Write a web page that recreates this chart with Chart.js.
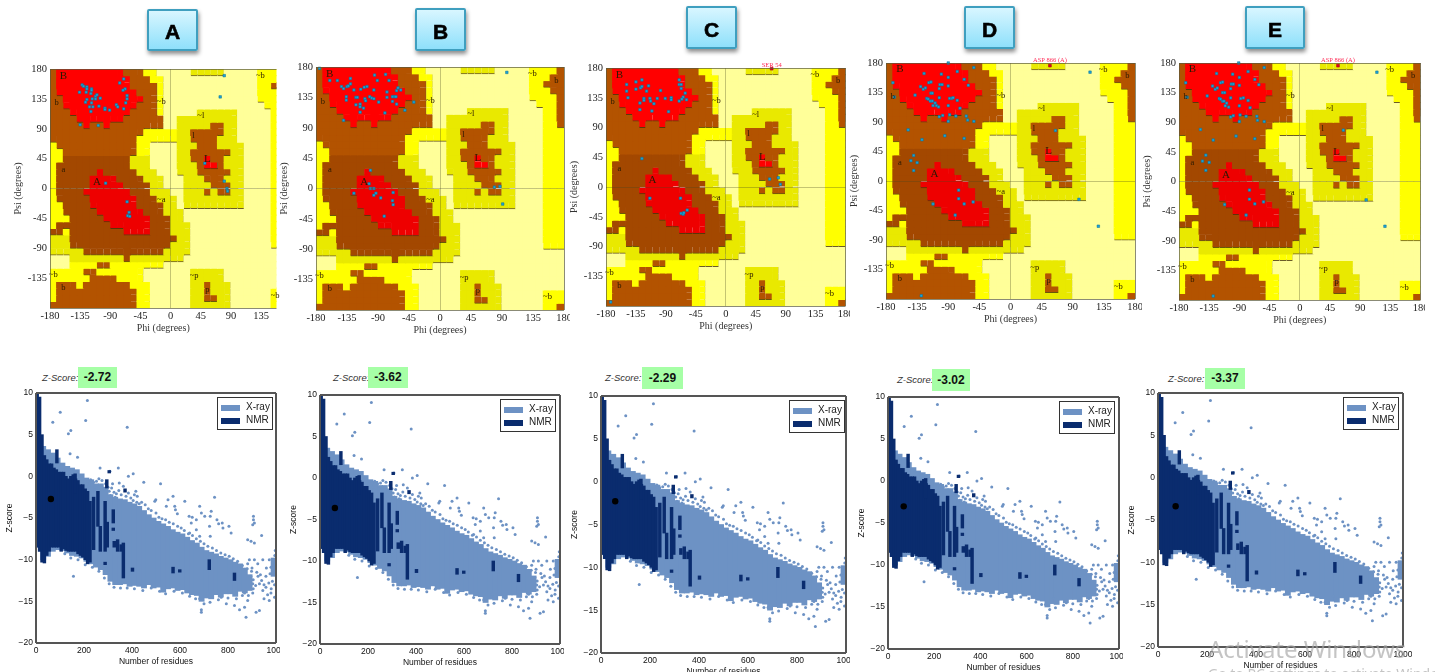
<!DOCTYPE html>
<html>
<head>
<meta charset="utf-8">
<title>Ramachandran and Z-score plots</title>
<script src="https://cdn.jsdelivr.net/npm/chart.js@4/dist/chart.umd.min.js"></script>
<style>
  html, body { margin: 0; padding: 0; background: #fff; overflow: hidden; }
  #page { position: relative; width: 1435px; height: 672px; overflow: hidden; }
  canvas { position: absolute; filter: blur(0.55px); }
  .tag { position: absolute; box-sizing: border-box; border: 2px solid #3f9fbf; border-radius: 2px;
    background: linear-gradient(#d8f6ff, #8fe0fb); box-shadow: 1px 3px 4px rgba(0,0,0,.45);
    font: bold 21px "Liberation Sans", sans-serif; color: #000; text-align: center; -webkit-text-stroke: 0.6px #000; }
  .zlabel { position: absolute; font: italic 9.5px "Liberation Sans", sans-serif; color: #333; line-height: 12px; }
  .zbox { position: absolute; background: #a6ffa6; font: bold 12px "Liberation Sans", sans-serif; color: #111; text-align: center; }
  .legend { position: absolute; box-sizing: border-box; width: 56px; height: 33px; border: 1.5px solid #333; background: #fff;
    font: 10px "Liberation Sans", sans-serif; color: #222; filter: blur(0.3px); }
  .legend i { position: absolute; left: 3px; width: 19px; height: 6px; }
  .legend span { position: absolute; left: 28px; line-height: 12px; }
  .watermark { position: absolute; font-family: "Noto Sans", sans-serif; color: rgba(165,165,165,.65); white-space: nowrap; }
</style>
</head>
<body>
<div id="page"></div>
<script>
// Ramachandran region map, one row per 10 degrees of psi from +180 down to -180
// R red, r dark red, B brown, D dark brown, Y yellow, E olive, P pale
const regionRows = [
  'B R10 B3 Y2 P5 E5 P5 Y4 B',
  'B R11 B3 Y2 P14 Y3 B2',
  'B R11 B4 Y P14 Y2 B3',
  'B R12 B3 Y P14 Y3 B2',
  'B2 R12 B2 Y P14 Y4 B',
  'B2 R11 B3 Y P15 Y3 B',
  'B3 R9 B4 Y P5 E6 P5 Y2 B',
  'B4 R7 B6 P2 E9 P5 Y2 B',
  'B5 R B2 R B8 P2 E5 B2 E2 P5 Y2 B',
  'B14 Y5 E2 B5 E2 P5 Y3',
  'B13 Y6 E2 B4 E3 P5 Y3',
  'Y B12 Y2 P4 E3 B3 E4 P4 Y3',
  'Y2 B11 Y2 P4 E2 B6 E2 P4 Y3',
  'Y2 D10 E3 P4 E2 B2 R B2 E3 P4 Y3',
  'Y D11 E3 P4 E3 B R2 B E3 P4 Y3',
  'Y D6 r D5 E3 P3 E3 B5 E2 P4 Y3',
  'Y D5 r4 D4 E3 P3 E3 B3 E3 P4 Y3',
  'Y D5 r5 D4 E2 P3 E4 B3 E2 P4 Y3',
  'Y D4 r7 D3 E3 P2 E3 B E B2 E2 P4 Y3',
  'Y D5 r7 D3 E3 P E9 P4 Y3',
  'Y2 D4 r7 D4 E2 P E9 P4 Y3',
  'Y2 D5 r7 D3 E3 P13 Y3',
  'Y3 D5 r7 D3 E2 P13 Y3',
  'Y D8 r6 D3 E3 P12 Y3',
  'D2 Y D8 r4 D3 E3 P12 Y3',
  'E3 D16 E2 P12 Y3',
  'E3 D15 E3 P12 Y3',
  'E5 D12 E4 P15',
  'P3 E8 D E8 P16',
  'P3 Y4 B2 Y8 P19',
  'Y5 B2 Y7 P7 E5 P10',
  'Y6 B4 Y4 P7 E5 P10',
  'Y B3 Y B7 Y3 P6 E2 B E3 P9',
  'Y B12 Y2 P6 E2 B E3 P6 Y3',
  'Y B12 Y2 P6 E2 B2 E2 P6 Y3',
  'B13 Y2 P6 E6 P6 Y2 B'
];

// Region letters on the map: text, phi, psi
const regionLabels = [
  ['B', -160, 170], ['b', -170, 129], ['a', -160, 28], ['A', -110, 10], ['~b', -14, 130],
  ['~a', -14, -17], ['~l', 45, 110], ['l', 34, 80], ['L', 55, 45], ['~p', 35, -132],
  ['p', 55, -152], ['~b', -175, -130], ['b', -160, -149], ['~b', 134, 170], ['b', 169, 160], ['~b', 156, -161]
];

// Residues: [phi, psi]
const residuesA = [[-132,156],[-130,154],[-136,145],[-125,153],[-125,150],[-118,150],[-118,148],[-119,143],[-126,145],[-125,134],[-127,130],[-117,135],[-118,129],[-112,139],[-110,141],[-112,135],[-105,136],[-121,123],[-116,123],[-119,116],[-107,124],[-98,121],[-98,119],[-91,118],[-81,126],[-79,123],[-70,120],[-65,140],[-65,135],[-67,129],[-68,150],[-71,148],[-76,159],[-70,165],[-135,96],[-108,95],[-97,8],[-65,-20],[-62,-36],[-64,-41],[-61,-42],[51,38],[80,170],[74,138],[80,11],[84,0],[85,-4]];
const residuesB = [[-175,178],[-160,160],[-149,160],[-143,151],[-140,148],[-135,151],[-133,152],[-130,163],[-130,155],[-125,146],[-115,147],[-110,150],[-106,151],[-95,168],[-91,160],[-79,169],[-74,160],[-96,146],[-77,143],[-63,145],[-61,149],[-57,146],[-77,135],[-69,136],[-66,136],[-64,136],[-136,136],[-136,131],[-122,135],[-120,135],[-109,133],[-108,130],[-102,136],[-99,134],[-96,133],[-89,128],[-69,129],[-63,125],[-122,124],[-116,125],[-116,121],[-111,119],[-116,113],[-80,112],[-51,116],[-38,128],[-140,101],[-101,27],[-103,7],[-101,0],[-96,0],[-125,-7],[-93,-7],[-96,-10],[-86,-14],[-68,-6],[-69,-18],[-68,-24],[-81,-41],[97,172],[79,2],[87,3],[91,-23]];
const residuesC = [[-149,155],[-149,145],[-147,135],[-135,159],[-135,148],[-128,150],[-126,152],[-126,162],[-116,153],[-119,145],[-98,146],[-123,134],[-123,131],[-129,127],[-114,134],[-113,130],[-108,126],[-103,134],[-91,134],[-82,135],[-82,132],[-70,155],[-67,155],[-70,162],[-67,149],[-61,142],[-64,136],[-66,133],[-70,130],[-59,132],[-129,117],[-111,115],[-86,114],[-126,43],[-114,-17],[-68,-17],[-67,-40],[-64,-41],[-63,-39],[-58,-35],[66,12],[79,14],[82,4],[-173,-174]];
const residuesD = [[-90,180],[-53,173],[-77,167],[-100,163],[-125,164],[-90,158],[-67,155],[-61,146],[-170,150],[-168,128],[-130,144],[-126,140],[-123,142],[-118,150],[-115,151],[-102,147],[-99,147],[-90,145],[-103,141],[-138,131],[-121,126],[-119,125],[-116,122],[-113,122],[-115,134],[-113,134],[-103,127],[-109,119],[-107,115],[-112,115],[-104,113],[-90,115],[-88,126],[-85,126],[-83,127],[-77,123],[-73,111],[-103,98],[-98,100],[-88,101],[-79,99],[-64,99],[-62,93],[-53,91],[-90,91],[-148,78],[-128,63],[-95,69],[-67,65],[-140,39],[-144,31],[-135,28],[-140,16],[-75,-14],[-75,-27],[-67,-35],[-54,-32],[-112,-35],[-80,-52],[115,166],[65,77],[99,-28],[127,-69],[-129,-175]];
const residuesE = [[-91,180],[-53,173],[-77,167],[-100,163],[-124,164],[-90,158],[-67,155],[-61,147],[-170,150],[-168,128],[-130,145],[-126,140],[-123,142],[-118,150],[-115,151],[-102,148],[-99,148],[-90,146],[-103,141],[-138,130],[-120,126],[-118,125],[-115,122],[-113,122],[-115,135],[-112,135],[-103,127],[-109,119],[-106,113],[-111,115],[-90,115],[-88,126],[-84,127],[-77,123],[-74,112],[-103,98],[-99,100],[-89,101],[-80,99],[-64,99],[-63,93],[-53,91],[-90,91],[-148,79],[-129,63],[-95,69],[-67,65],[-140,40],[-145,31],[-135,29],[-140,17],[-75,-13],[-75,-27],[-67,-34],[-54,-31],[-112,-35],[-80,-51],[115,166],[65,78],[99,-28],[127,-68],[-129,-174]];

// Flagged residues (red dot and red label): text, phi, psi
const flaggedC = [['SER 54', 69, 179]];
const flaggedD = [['ASP 866 (A)', 57, 176]];
const flaggedE = [['ASP 866 (A)', 57, 176]];

// Z-score plot, X-ray band: residues, top and bottom of the dense cloud
const xrayResidues = [10,30,50,70,90,110,130,150,170,190,210,230,250,270,290,310,330,350,370,390,410,430,450,470,490,510,530,550,570,590,610,630,650,670,690,710,730,750,770,790,810,830,850,870,890,990];
const xrayHigh = [4.2,3.6,3.2,2.8,2.2,1.6,1.2,1,0.8,0.3,-0.2,-0.4,-0.9,-0.9,-1.3,-2.2,-2.5,-2.7,-2.8,-3.1,-3.3,-3.6,-4.1,-4.6,-5,-5.4,-5.7,-6,-6.4,-6.7,-6.9,-7.3,-7.7,-8,-8.5,-8.9,-9.1,-9.3,-9.6,-9.8,-10,-10.3,-10.5,-11,-11.8,-9.8];
const xrayLow = [-8.5,-10,-9.6,-9,-8.8,-8.9,-9.2,-9.5,-9.6,-9.8,-10.2,-10.5,-10.9,-11.2,-11.8,-12.6,-13,-13,-12.9,-13.2,-13.1,-13.2,-13.4,-13,-13.4,-13.3,-13.9,-13.5,-13.4,-13.7,-13.6,-14,-14.2,-14.3,-15,-14.6,-14.7,-14.2,-14.5,-14.1,-14.1,-14.4,-13.8,-14,-13.7,-12];

// Z-score plot, scattered X-ray structures outside the band: [residues, z]
const xrayScatter = [[214,9.1],[101,7.7],[207,6.7],[70,6.5],[380,5.9],[145,5.5],[135,5.1],[142,2.7],[173,2.3],[267,1],[308,0.6],[343,1],[385,0],[405,0.3],[449,-0.7],[519,-0.9],[319,-0.9],[347,-0.8],[364,-1.2],[416,-1.8],[422,-2.4],[495,-3],[499,-2.8],[550,-2.8],[571,-2.4],[620,-3],[543,-3.6],[578,-3.6],[581,-4],[589,-4.5],[638,-4.8],[651,-4.9],[668,-5.2],[682,-3.6],[689,-4.4],[703,-4.8],[730,-4.2],[726,-4.8],[744,-2.5],[754,-5.2],[761,-5.7],[776,-5.6],[779,-6.2],[804,-6],[813,-6.8],[906,-4.8],[906,-5.2],[903,-5.8],[910,-5.6],[940,-7.1],[882,-7.6],[896,-7.8],[910,-8],[723,-6],[726,-7.2],[682,-7.2],[668,-6.4],[640,-6.8],[647,-5.6],[156,-12],[882,-10.5],[889,-10],[910,-10],[924,-10.5],[945,-10],[972,-10],[997,-8.9],[979,-10.9],[975,-11.7],[958,-12],[931,-12.9],[903,-12.9],[945,-13.7],[958,-13.3],[979,-14],[994,-14.5],[972,-14.9],[917,-16.3],[931,-16.1],[869,-15.7],[875,-16.9],[848,-16],[827,-15.5],[793,-15.3],[689,-16],[689,-16.3],[682,-14.7],[716,-14],[772,-14.5],[882,-14.9],[903,-14],[869,-14],[994,-13],[985,-12.6],[920,-11.5],[900,-11],[935,-11.8],[950,-13]];

// Fringe of the X-ray cloud, top edge then bottom edge then right-hand cluster
const xrayFringe = [[215,-0.6],[228,-0.4],[240,-0.7],[252,-0.6],[262,-0.3],[275,-0.5],[290,-0.9],[300,-1.3],[220,-1.1],[245,-1.3],[268,-1.1],[283,-1.5],[305,-1.8],[315,-1.4],[325,-1.9],[335,-2.1],[345,-1.7],[355,-2.2],[310,-2.3],[330,-2.5],[375,-2.4],[385,-2],[395,-2.6],[405,-2.9],[420,-3.1],[410,-2.2],[430,-3.3],[440,-3.1],[455,-3.4],[468,-3.9],[480,-4.1],[500,-4.4],[512,-4.9],[525,-5.1],[540,-5.2],[555,-5.5],[572,-5.7],[590,-6],[605,-6.2],[618,-6.5],[635,-6.9],[652,-7.1],[668,-7.5],[685,-7.8],[700,-8.1],[716,-8.4],[735,-8.6],[752,-8.9],[770,-9.2],[788,-9.4],[805,-9.6],[822,-9.9],[840,-10.2],[860,-10.7],[880,-11.1],
  [120,-9.3],[145,-9.8],[175,-10],[205,-10.6],[235,-10.9],[262,-11.4],[285,-12.2],[305,-12.9],[325,-13.3],[352,-13.4],[380,-13.4],[410,-13.5],[445,-13.7],[480,-13.4],[515,-13.8],[540,-14.1],[575,-13.8],[610,-14],[640,-14.4],[665,-14.7],[700,-15.3],[725,-15.1],[760,-14.8],[800,-14.6],[835,-14.7],[860,-14.3],[885,-14.3],[905,-13.5],
  [895,-12],[905,-12.4],[915,-13.1],[925,-12],[940,-12.5],[960,-11],[970,-12.8],[985,-11.5],[995,-10.5],[995,-9.5],[990,-11],[980,-13.5],[965,-14.2],[950,-14.7],[898,-11.4]];

// Z-score plot, NMR band
const nmrResidues = [5,15,25,35,45,55,65,75,85,95,105,115,125,135,145,155,165,175,185,195,205,215,225];
const nmrHigh = [10,9.5,5,2.5,2,1.5,1.5,1,0.8,0.5,0.5,0.5,0,-0.3,0,0.2,-0.3,-0.5,-1,-1,-1.5,-1.8,-3];
const nmrLow = [-8.5,-9,-10.3,-10.4,-9.5,-9,-8.5,-8.5,-8.5,-8.5,-9,-8.7,-8.9,-9,-9,-9,-9,-9.3,-9.5,-9.7,-10,-10.5,-10.3];

// NMR strips standing out of the X-ray band: residues, top, bottom
const stripResidues = [87,163,240,258,268,288,295,297,305,322,322,326,340,355,364,371,288,402,571,599,722,827];
const stripHigh = [3.2,0.3,-2.5,-1.8,-6,-3,-0.4,-5.5,0.7,-4,-6.2,-7.8,-7.6,-8.2,-8,-1.5,-10.3,-11,-10.9,-11.2,-10,-11.6];
const stripLow = [1.6,-2,-8.8,-6,-9,-9,-1.4,-8.5,0.4,-5.6,-6.5,-8.5,-9,-9,-12.2,-1.9,-10.6,-11.4,-11.6,-11.5,-11.2,-12.5];

// Model position on each Z-score plot: residues, z
const modelA = [[62, -2.72]];
const modelB = [[62, -3.62]];
const modelC = [[58, -2.29]];
const modelD = [[68, -3.02]];
const modelE = [[72, -3.37]];

const psiTickLabels = [180, 135, 90, 45, 0, -45, -90, -135];

const REGION_COLORS = { R: '#ff0000', r: '#ee0000', B: '#b35300', D: '#a34800', Y: '#ffff00', E: '#e9e900', P: '#ffff99' };
const REGION_RANK = { R: 3, r: 3, B: 2, D: 2, Y: 1, E: 1, P: 0 };
const XRAY_COLOR = '#6d92c4';
const NMR_COLOR = '#0a2c6e';
const SERIF = '"Liberation Serif", serif';
const SANS = '"Liberation Sans", sans-serif';

// Panel layout: plot rectangles in page pixels
const ramaPanels = [
  { name: 'A', left: 50, right: 281, top: 69, bottom: 308, phiMax: 158, clip: 0, residues: residuesA, flagged: [], tag: [147, 9, 51, 42] },
  { name: 'B', left: 316, right: 564, top: 67, bottom: 310, phiMax: 180, clip: 6, residues: residuesB, flagged: [], tag: [415, 8, 51, 43] },
  { name: 'C', left: 606, right: 850, top: 68, bottom: 306, phiMax: 180, clip: 0, residues: residuesC, flagged: flaggedC, tag: [686, 6, 51, 43] },
  { name: 'D', left: 886, right: 1135, top: 63, bottom: 299, phiMax: 180, clip: 7, residues: residuesD, flagged: flaggedD, tag: [964, 6, 51, 43] },
  { name: 'E', left: 1179, right: 1421, top: 63, bottom: 300, phiMax: 180, clip: 4, residues: residuesE, flagged: flaggedE, tag: [1245, 6, 60, 43] }
];
const zPanels = [
  { left: 36, right: 277, top: 393, bottom: 643, clip: 3, model: modelA, score: '-2.72', label: 42, box: [78, 367, 39, 21] },
  { left: 320, right: 560, top: 395, bottom: 644, clip: 4, model: modelB, score: '-3.62', label: 333, box: [368, 367, 40, 21] },
  { left: 601, right: 849, top: 396, bottom: 653, clip: 1, model: modelC, score: '-2.29', label: 605, box: [642, 367, 41, 22] },
  { left: 888, right: 1119, top: 397, bottom: 649, clip: 4, model: modelD, score: '-3.02', label: 897, box: [932, 369, 38, 22] },
  { left: 1158, right: 1403, top: 393, bottom: 647, clip: 9, model: modelE, score: '-3.37', label: 1168, box: [1205, 368, 40, 21] }
];

const page = document.getElementById('page');

function addCanvas(x, y, w, h) {
  const canvas = document.createElement('canvas');
  canvas.width = w;
  canvas.height = h;
  canvas.style.left = x + 'px';
  canvas.style.top = y + 'px';
  canvas.style.width = w + 'px';
  canvas.style.height = h + 'px';
  page.appendChild(canvas);
  return canvas;
}

function addDiv(cls, text, x, y, w, h) {
  const div = document.createElement('div');
  div.className = cls;
  div.textContent = text;
  div.style.left = x + 'px';
  div.style.top = y + 'px';
  if (w) div.style.width = w + 'px';
  if (h) {
    div.style.height = h + 'px';
    div.style.lineHeight = h + 'px';
  }
  page.appendChild(div);
  return div;
}

function expandRuns(row) {
  return row.split(' ').map(run => run[0].repeat(Number(run.slice(1) || 1))).join('');
}

const regionCells = regionRows.map(expandRuns);

// one floating-bar dataset per psi row
function regionDatasets() {
  return regionCells.map((cells, r) => ({
    type: 'bar',
    order: 5,
    grouped: false,
    barPercentage: 1,
    categoryPercentage: 1,
    inflateAmount: 0.6,
    borderSkipped: false,
    borderColor: 'rgba(70,50,10,.8)',
    data: cells.split('').map((c, j) => ({ x: -175 + 10 * j, y: [170 - 10 * r, 180 - 10 * r] })),
    backgroundColor: cells.split('').map(c => REGION_COLORS[c]),
    borderWidth: ctx => {
      const c = cells[ctx.dataIndex];
      const right = cells[ctx.dataIndex + 1];
      const below = regionCells[r + 1] ? regionCells[r + 1][ctx.dataIndex] : c;
      return {
        top: 0,
        left: 0,
        right: right && REGION_RANK[c] > REGION_RANK[right] ? 1 : 0,
        bottom: REGION_RANK[c] > REGION_RANK[below] ? 1 : 0
      };
    }
  }));
}

// region letters and red residue names
const ramaTextPlugin = {
  id: 'ramaText',
  afterDatasetsDraw(chart, args, opts) {
    const { ctx, scales: { x, y }, chartArea } = chart;
    ctx.save();
    ctx.textAlign = 'center';
    ctx.textBaseline = 'middle';
    ctx.fillStyle = '#2a1a00';
    regionLabels.forEach(([text, phi, psi]) => {
      if (phi > x.max) return;
      const big = text === 'A' || text === 'B' || text === 'L';
      ctx.font = (big ? '11px ' : '8.5px ') + SERIF;
      ctx.fillText(text, x.getPixelForValue(phi), y.getPixelForValue(psi));
    });
    ctx.fillStyle = '#ff2a55';
    ctx.font = '6.5px ' + SERIF;
    opts.flagged.forEach(([text, phi]) => {
      ctx.fillText(text, x.getPixelForValue(phi), chartArea.top - 3);
    });
    ctx.restore();
  }
};

function drawRama(panel) {
  const yAxisWidth = 38;
  const xAxisHeight = 26;
  const padTop = 9;
  const canvas = addCanvas(panel.left - yAxisWidth, panel.top - padTop,
    panel.right - panel.left + yAxisWidth + panel.clip, panel.bottom - panel.top + padTop + xAxisHeight);
  const gridColor = ctx => ctx.tick.value === 0 ? 'rgba(70,70,30,.32)' : 'rgba(90,90,60,.7)';
  const gridWidth = ctx => (ctx.tick.value === 0 || Math.abs(ctx.tick.value) === 180) ? 1 : 0;

  new Chart(canvas, {
    type: 'bar',
    data: {
      datasets: [
        {
          type: 'scatter',
          order: 1,
          clip: false,
          data: panel.residues.map(p => ({ x: p[0], y: p[1] })),
          pointStyle: 'rect',
          pointRadius: 1.8,
          pointBackgroundColor: '#19a5d8',
          pointBorderColor: '#0d6f96',
          pointBorderWidth: 0.5
        },
        {
          type: 'scatter',
          order: 0,
          clip: false,
          data: panel.flagged.map(p => ({ x: p[1], y: p[2] })),
          pointStyle: 'rect',
          pointRadius: 2,
          pointBackgroundColor: '#e00020',
          pointBorderColor: '#a00018',
          pointBorderWidth: 0.5
        },
        ...regionDatasets()
      ]
    },
    options: {
      responsive: false,
      animation: false,
      events: [],
      layout: { padding: { top: padTop, left: 0, right: panel.clip, bottom: 0 } },
      plugins: { legend: { display: false }, tooltip: { enabled: false }, ramaText: { flagged: panel.flagged } },
      scales: {
        x: {
          type: 'linear',
          offset: false,
          min: -180,
          max: panel.phiMax,
          afterFit: s => { s.height = xAxisHeight; s.paddingLeft = 0; s.paddingRight = 0; },
          border: { display: false },
          grid: { offset: false, z: 1, drawTicks: false, color: gridColor, lineWidth: gridWidth },
          ticks: {
            stepSize: 45,
            includeBounds: false,
            autoSkip: false,
            maxRotation: 0,
            padding: 2,
            color: '#222',
            font: { family: SERIF, size: 10.5 }
          },
          title: { display: true, text: 'Phi (degrees)', color: '#333', padding: 0, font: { family: SERIF, size: 10 } }
        },
        y: {
          min: -180,
          max: 180,
          afterFit: s => { s.width = yAxisWidth; s.paddingTop = 0; s.paddingBottom = 0; },
          border: { display: false },
          grid: { z: 1, drawTicks: false, color: gridColor, lineWidth: gridWidth },
          ticks: {
            stepSize: 45,
            autoSkip: false,
            padding: 3,
            color: '#222',
            font: { family: SERIF, size: 10.5 },
            callback: v => psiTickLabels.includes(v) ? String(v) : ''
          },
          title: { display: true, text: 'Psi (degrees)', color: '#333', padding: 0, font: { family: SERIF, size: 10 } }
        }
      }
    },
    plugins: [ramaTextPlugin]
  });

  const [tx, ty, tw, th] = panel.tag;
  addDiv('tag', panel.name, tx, ty, tw, th);
}

function barsFrom(xs, highs, lows) {
  return xs.map((x, i) => ({ x, y: [lows[i], highs[i]] }));
}

function drawZ(panel) {
  const yAxisWidth = 31;
  const xAxisHeight = 24;
  const padTop = 6;
  const canvas = addCanvas(panel.left - yAxisWidth, panel.top - padTop,
    panel.right - panel.left + yAxisWidth + panel.clip, panel.bottom - panel.top + padTop + xAxisHeight);
  const edgeWidth = (value, a, b) => (value === a || value === b) ? 2 : 0;

  new Chart(canvas, {
    type: 'bar',
    data: {
      datasets: [
        {
          type: 'scatter',
          order: 0,
          data: panel.model.map(p => ({ x: p[0], y: p[1] })),
          pointRadius: 3.2,
          pointBackgroundColor: '#000',
          pointBorderWidth: 0
        },
        {
          type: 'bar',
          order: 1,
          grouped: false,
          barThickness: 2.8,
          backgroundColor: NMR_COLOR,
          data: barsFrom(nmrResidues, nmrHigh, nmrLow).concat(barsFrom(stripResidues, stripHigh, stripLow))
        },
        {
          type: 'scatter',
          order: 2,
          clip: false,
          data: xrayScatter.concat(xrayFringe).map(p => ({ x: p[0], y: p[1] })),
          pointRadius: 1.5,
          pointBackgroundColor: XRAY_COLOR,
          pointBorderWidth: 0
        },
        {
          type: 'bar',
          order: 3,
          grouped: false,
          barThickness: 5.2,
          backgroundColor: XRAY_COLOR,
          data: barsFrom(xrayResidues, xrayHigh, xrayLow)
        }
      ]
    },
    options: {
      responsive: false,
      animation: false,
      events: [],
      layout: { padding: { top: padTop, left: 0, right: panel.clip, bottom: 0 } },
      plugins: { legend: { display: false }, tooltip: { enabled: false } },
      scales: {
        x: {
          type: 'linear',
          offset: false,
          min: 0,
          max: 1000,
          afterFit: s => { s.height = xAxisHeight; s.paddingLeft = 0; s.paddingRight = 0; },
          border: { display: false },
          grid: { offset: false, z: 1, drawTicks: false, color: '#555', lineWidth: ctx => edgeWidth(ctx.tick.value, 0, 1000) },
          ticks: {
            stepSize: 200,
            autoSkip: false,
            maxRotation: 0,
            padding: 3,
            color: '#111',
            font: { family: SANS, size: 8.5 },
            callback: v => String(v)
          },
          title: { display: true, text: 'Number of residues', color: '#111', padding: 0, font: { family: SANS, size: 8.5 } }
        },
        y: {
          min: -20,
          max: 10,
          afterFit: s => { s.width = yAxisWidth; s.paddingTop = 0; s.paddingBottom = 0; },
          border: { display: false },
          grid: { z: 1, drawTicks: false, color: '#555', lineWidth: ctx => edgeWidth(ctx.tick.value, -20, 10) },
          ticks: {
            stepSize: 5,
            autoSkip: false,
            padding: 3,
            color: '#111',
            font: { family: SANS, size: 8.5 },
            callback: v => String(v).replace('-', '\u2212')
          },
          title: { display: true, text: 'Z-score', color: '#111', padding: 0, font: { family: SANS, size: 8.5 } }
        }
      }
    }
  });

  const legend = addDiv('legend', '', panel.right - 60, panel.top + 4);
  legend.innerHTML = '<i style="top:7px;background:' + XRAY_COLOR + '"></i><span style="top:3px">X-ray</span>' +
    '<i style="top:20px;background:' + NMR_COLOR + '"></i><span style="top:16px">NMR</span>';

  addDiv('zlabel', 'Z-Score:', panel.label, panel.box[1] + 5);
  addDiv('zbox', panel.score, panel.box[0], panel.box[1], panel.box[2], panel.box[3]);
}

ramaPanels.forEach(drawRama);
zPanels.forEach(drawZ);

const mark1 = addDiv('watermark', 'Activate Windows', 1208, 632);
mark1.style.fontSize = '24px';
const mark2 = addDiv('watermark', 'Go to PC settings to activate Windows.', 1208, 664);
mark2.style.fontSize = '14px';
</script>
</body>
</html>
